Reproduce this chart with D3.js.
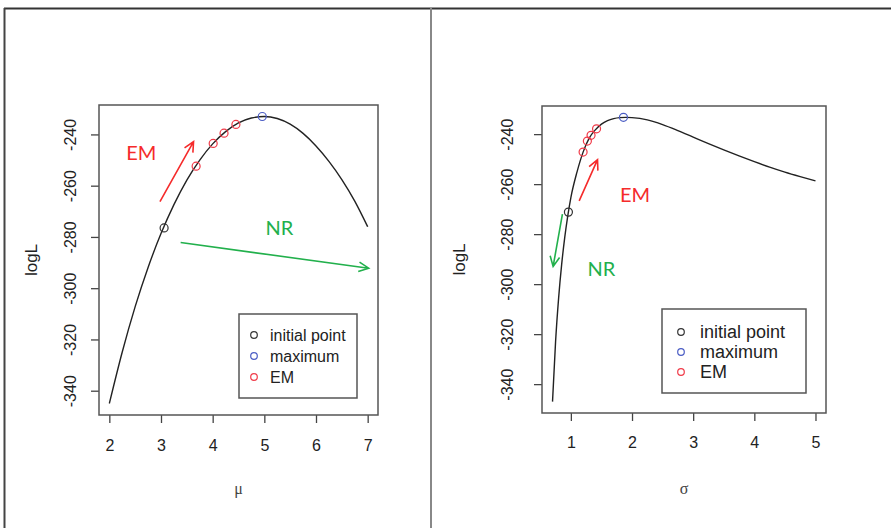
<!DOCTYPE html>
<html>
<head>
<meta charset="utf-8">
<script src="https://cdn.jsdelivr.net/npm/d3@7"></script>
<style>
  body { margin: 0; background: #fff; }
  text { font-family: "Liberation Sans", Arial, sans-serif; }
</style>
</head>
<body>
<div id="display"></div>
<script>
// left panel: logL as a function of mu
const muGrid = [2, 2.25, 2.5, 2.75, 3, 3.25, 3.5, 3.75, 4, 4.25, 4.5, 4.75, 5, 5.25, 5.5, 5.75, 6, 6.25, 6.5, 6.75, 7]
const muLogL = [-345, -324.9, -307.2, -291.9, -278.7, -267.4, -257.8, -250, -243.7, -238.9, -235.5, -233.6, -233, -233.8, -236, -239.6, -244.5, -250.5, -257.6, -266, -276]
const muInit = [3.06], muInitL = [-276.5]
const muMax = [4.96], muMaxL = [-233]
const muEM = [3.68, 4.01, 4.22, 4.45], muEML = [-252.4, -243.5, -239.5, -236.1]
const muTicks = [2, 3, 4, 5, 6, 7]

// right panel: logL as a function of sigma
const sigmaGrid = [0.7, 0.75, 0.8, 0.85, 0.9, 0.95, 1.0, 1.1, 1.2, 1.3, 1.4, 1.5, 1.6, 1.7, 1.8, 1.9, 2.0, 2.25, 2.5, 2.75, 3.0, 3.25, 3.5, 3.75, 4.0, 4.25, 4.5, 4.75, 5.0]
const sigmaLogL = [-347, -323, -305.5, -292, -281.3, -272.6, -265.4, -255.2, -247.2, -241.6, -238.3, -236, -234.6, -233.8, -233.4, -233.3, -233.4, -234.3, -236.2, -238.6, -241.2, -243.8, -246.3, -248.7, -251, -253.2, -255.2, -257, -258.7]
const sigmaInit = [0.96], sigmaInitL = [-271.2]
const sigmaMax = [1.86], sigmaMaxL = [-233.3]
const sigmaEM = [1.2, 1.27, 1.33, 1.42], sigmaEML = [-247.2, -242.8, -240.5, -237.9]
const sigmaTicks = [1, 2, 3, 4, 5]

const logLTicks = [-340, -320, -300, -280, -260, -240]
const legendLabels = ["initial point", "maximum", "EM"]
const pointColors = ["#333333", "#4a5cc4", "#f03a48"]

// annotation arrows [x1, y1, x2, y2] in data units
const muArrows = {EM: [2.98, -266.2, 3.63, -242.8], NR: [3.38, -282.2, 7.02, -292.2]}
const muLabels = {EM: [2.62, -247.3], NR: [5.29, -276.5]}
const sigmaArrows = {EM: [1.136, -266.7, 1.436, -250.2], NR: [0.862, -272, 0.71, -292.9]}
const sigmaLabels = {EM: [2.05, -264.4], NR: [1.5, -293.8]}

const W = 891, H = 528
const red = "#f52b2b", green = "#22b04c"

const svg = d3.select('#display').append('svg')
    .attr('width', W)
    .attr('height', H)

svg.append('rect').attr('width', W).attr('height', H).attr('fill', '#fff')

// outer frame
svg.append('line').attr('x1', 4).attr('x2', W).attr('y1', 8.5).attr('y2', 8.5)
    .attr('stroke', '#333').attr('stroke-width', 2)
svg.append('line').attr('x1', 4.5).attr('x2', 4.5).attr('y1', 8).attr('y2', H)
    .attr('stroke', '#444').attr('stroke-width', 2)
svg.append('line').attr('x1', 431).attr('x2', 431).attr('y1', 8).attr('y2', H)
    .attr('stroke', '#888').attr('stroke-width', 2)

// R style range: data extent padded by 4%
function rRange(vals) {
    const e = d3.extent(vals)
    const pad = (e[1] - e[0]) * 0.04
    return [e[0] - pad, e[1] + pad]
}

function drawPanel(opt) {
    const g = svg.append('g')
    const {box} = opt

    const x = d3.scaleLinear().domain(rRange(opt.xs)).range([box.left, box.right])
    const y = d3.scaleLinear().domain(rRange(opt.ys)).range([box.bottom, box.top])

    const xAxis = g.append('g')
        .attr('transform', 'translate(0,' + box.bottom + ')')
        .call(d3.axisBottom(x).tickValues(opt.xTicks).tickFormat(d => String(d))
            .tickSize(8).tickPadding(opt.xPad).tickSizeOuter(0))
    xAxis.select('.domain').remove()
    xAxis.selectAll('line').attr('stroke', '#444').attr('stroke-width', 1.3)
    xAxis.selectAll('text').attr('fill', '#222').style('font-size', opt.tickFont + 'px')

    const yAxis = g.append('g')
        .attr('transform', 'translate(' + box.left + ',0)')
        .call(d3.axisLeft(y).tickValues(logLTicks).tickFormat(d => String(d))
            .tickSize(8).tickSizeOuter(0))
    yAxis.select('.domain').remove()
    yAxis.selectAll('line').attr('stroke', '#444').attr('stroke-width', 1.3)
    yAxis.selectAll('text')
        .attr('fill', '#222')
        .style('font-size', opt.tickFont + 'px')
        .attr('transform', 'rotate(-90)')
        .attr('x', 0)
        .attr('y', -opt.yPad)
        .attr('dy', 0)
        .attr('text-anchor', 'middle')

    // plot box
    g.append('rect')
        .attr('x', box.left).attr('y', box.top)
        .attr('width', box.right - box.left).attr('height', box.bottom - box.top)
        .attr('fill', 'none').attr('stroke', '#555').attr('stroke-width', 1.5)

    const line = d3.line()
        .x((d, i) => x(opt.xs[i]))
        .y(d => y(d))
        .curve(d3.curveMonotoneX)
    g.append('path')
        .datum(opt.ys)
        .attr('d', line)
        .attr('fill', 'none')
        .attr('stroke', '#222')
        .attr('stroke-width', 1.4)

    const groups = [
        [opt.initX, opt.initY, pointColors[0]],
        [opt.maxX, opt.maxY, pointColors[1]],
        [opt.emX, opt.emY, pointColors[2]]
    ]
    groups.forEach(([px, py, col]) => {
        g.selectAll(null).data(px).enter().append('circle')
            .attr('cx', d => x(d))
            .attr('cy', (d, i) => y(py[i]))
            .attr('r', 4)
            .attr('fill', 'none')
            .attr('stroke', col)
            .attr('stroke-width', 1.2)
    })

    // arrows
    function arrow(a, col) {
        const x1 = x(a[0]), y1 = y(a[1]), x2 = x(a[2]), y2 = y(a[3])
        const ang = Math.atan2(y2 - y1, x2 - x1)
        const hl = 11, ha = 0.45
        g.append('path')
            .attr('d', 'M' + x1 + ',' + y1 + 'L' + x2 + ',' + y2 +
                'M' + (x2 - hl * Math.cos(ang - ha)) + ',' + (y2 - hl * Math.sin(ang - ha)) +
                'L' + x2 + ',' + y2 +
                'L' + (x2 - hl * Math.cos(ang + ha)) + ',' + (y2 - hl * Math.sin(ang + ha)))
            .attr('fill', 'none')
            .attr('stroke', col)
            .attr('stroke-width', 1.6)
    }
    arrow(opt.arrows.EM, red)
    arrow(opt.arrows.NR, green)

    g.append('text')
        .attr('x', x(opt.labels.EM[0])).attr('y', y(opt.labels.EM[1]))
        .attr('dy', '0.35em').attr('text-anchor', 'middle')
        .style('font-family', 'Lato, "Open Sans", sans-serif')
        .style('font-size', '20px').attr('fill', red)
        .text('EM')
    g.append('text')
        .attr('x', x(opt.labels.NR[0])).attr('y', y(opt.labels.NR[1]))
        .attr('dy', '0.35em').attr('text-anchor', 'middle')
        .style('font-family', 'Lato, "Open Sans", sans-serif')
        .style('font-size', '20px').attr('fill', green)
        .text('NR')

    // axis titles
    g.append('text')
        .attr('transform', 'translate(' + opt.ylabX + ',' + (box.top + box.bottom) / 2 + ') rotate(-90)')
        .attr('text-anchor', 'middle')
        .attr('dy', '0.35em')
        .style('font-size', '17px')
        .attr('fill', '#222')
        .text('logL')
    g.append('text')
        .attr('x', (box.left + box.right) / 2)
        .attr('y', 488)
        .attr('dy', '0.35em')
        .attr('text-anchor', 'middle')
        .style('font-family', '"Liberation Serif", "DejaVu Serif", serif')
        .style('font-size', '16px')
        .attr('fill', '#444')
        .text(opt.xTitle)

    // legend
    const L = opt.legend
    const lg = g.append('g')
    lg.append('rect')
        .attr('x', L.x).attr('y', L.y).attr('width', L.w).attr('height', L.h)
        .attr('fill', '#fff').attr('stroke', '#555').attr('stroke-width', 1.5)
    legendLabels.forEach((lab, i) => {
        const cy = L.y + L.first + i * L.step
        lg.append('circle')
            .attr('cx', L.x + L.cx).attr('cy', cy).attr('r', 3.3)
            .attr('fill', 'none').attr('stroke', pointColors[i]).attr('stroke-width', 1.2)
        lg.append('text')
            .attr('x', L.x + L.tx).attr('y', cy)
            .attr('dy', '0.35em')
            .style('font-size', L.font + 'px')
            .attr('fill', '#222')
            .text(lab)
    })
}

drawPanel({
    box: {left: 99, right: 378, top: 105, bottom: 415},
    xs: muGrid, ys: muLogL,
    initX: muInit, initY: muInitL, maxX: muMax, maxY: muMaxL, emX: muEM, emY: muEML,
    xTicks: muTicks, tickFont: 16, xPad: 17, yPad: 23,
    arrows: muArrows, labels: muLabels,
    ylabX: 31, xTitle: 'μ',
    legend: {x: 239, y: 314, w: 118, h: 84, first: 21, step: 21, cx: 15, tx: 31, font: 16}
})

drawPanel({
    box: {left: 542, right: 826, top: 106, bottom: 413},
    xs: sigmaGrid, ys: sigmaLogL,
    initX: sigmaInit, initY: sigmaInitL, maxX: sigmaMax, maxY: sigmaMaxL, emX: sigmaEM, emY: sigmaEML,
    xTicks: sigmaTicks, tickFont: 16, xPad: 16, yPad: 29,
    arrows: sigmaArrows, labels: sigmaLabels,
    ylabX: 459, xTitle: 'σ',
    legend: {x: 662, y: 309, w: 144, h: 84, first: 23, step: 20, cx: 19, tx: 38, font: 18}
})
</script>
</body>
</html>
